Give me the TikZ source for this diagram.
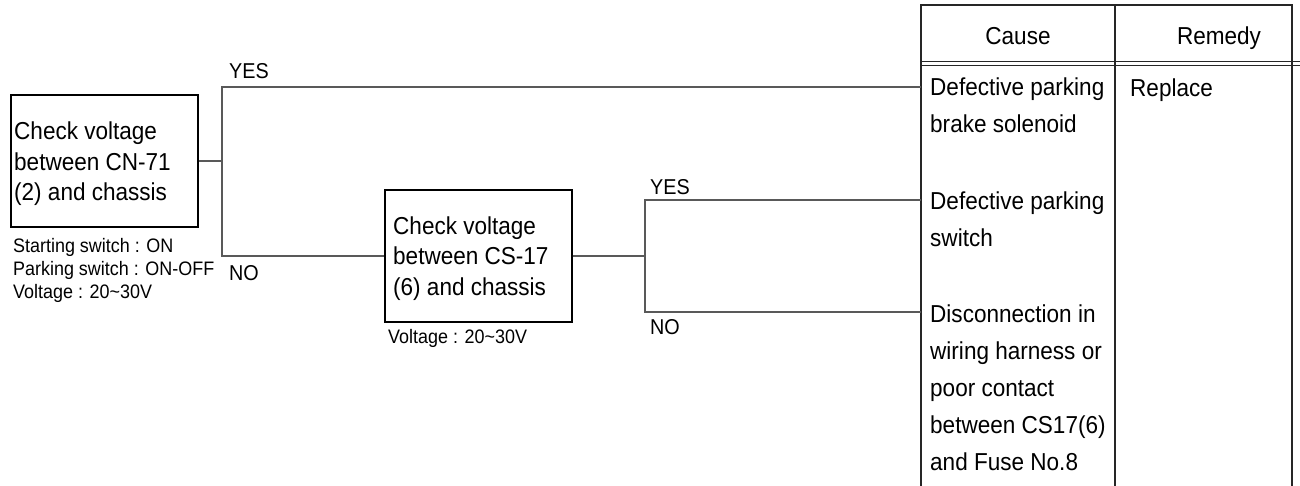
\documentclass[tikz,border=0pt]{standalone}
\usepackage{fontspec}
\setmainfont[FakeStretch=0.92]{Liberation Sans}
\begin{document}
\begin{tikzpicture}[x=1pt,y=-1pt,
  box/.style={draw=black, line width=1.3pt, minimum width=187pt, minimum height=132pt, inner sep=0pt},
  conn/.style={draw=black!65, line width=1.2pt},
  grid/.style={draw=black!85, line width=1.3pt},
  big/.style={font=\fontsize{24.5}{30.5}\selectfont, align=left, inner sep=0pt, anchor=base west},
  cause/.style={font=\fontsize{24.5}{37}\selectfont, align=left, inner sep=0pt, anchor=base west},
  small/.style={font=\fontsize{19.5}{23}\selectfont, align=left, inner sep=0pt, anchor=base west},
  lab/.style={font=\fontsize{21.5}{24}\selectfont, inner sep=0pt, anchor=base west},
  head/.style={font=\fontsize{24.5}{30}\selectfont, inner sep=0pt, anchor=base}]
\useasboundingbox (0,0) rectangle (1300,486);
% boxes
\node[box] (b1) at (104.5,161) {};
\node[box] (b2) at (478.5,256) {};
% multi-line nodes: base anchor sits on the last line
\node[big] (t1) at (14,201) {Check voltage\\between CN-71\\(2) and chassis};
\node[big] (t2) at (393,295) {Check voltage\\between CS-17\\(6) and chassis};
\node[small] (n1) at (13,298) {Starting switch : ON\\Parking switch : ON-OFF\\Voltage : 20\textasciitilde30V};
\node[small] (n2) at (388,343) {Voltage : 20\textasciitilde30V};
% table
\draw[grid] (921,486) -- (921,5) -- (1292,5) -- (1292,486);
\draw[grid] (1115,5) -- (1115,486);
\draw[grid, line width=1pt] (921,61.5) -- (1300,61.5);
\draw[grid, line width=1pt] (921,65.5) -- (1300,65.5);
\node[head] (hc) at (1018,45) {Cause};
\node[head] (hr) at (1219,45) {Remedy};
\node[cause] (k1) at (930,133) {Defective parking\\brake solenoid};
\node[cause] (k2) at (930,247) {Defective parking\\switch};
\node[cause] (k3) at (930,470) {Disconnection in\\wiring harness or\\poor contact\\between CS17(6)\\and Fuse No.8};
\node[cause] (r1) at (1130,97) {Replace};
% connectors
\coordinate (j1) at (222,161);
\coordinate (j2) at (645,256);
\coordinate (c1) at (921,87);
\coordinate (c2) at (921,200);
\coordinate (c3) at (921,312);
\draw[conn] (b1.east) -- (j1);
\draw[conn] (c1) -| (j1) |- (b2.west);
\draw[conn] (b2.east) -- (j2);
\draw[conn] (c2) -| (j2) |- (c3);
\node[lab] (y1) at (229,79) {YES};
\node[lab] (no1) at (229,280) {NO};
\node[lab] (y2) at (650,195) {YES};
\node[lab] (no2) at (650,334) {NO};
\end{tikzpicture}
\end{document}
